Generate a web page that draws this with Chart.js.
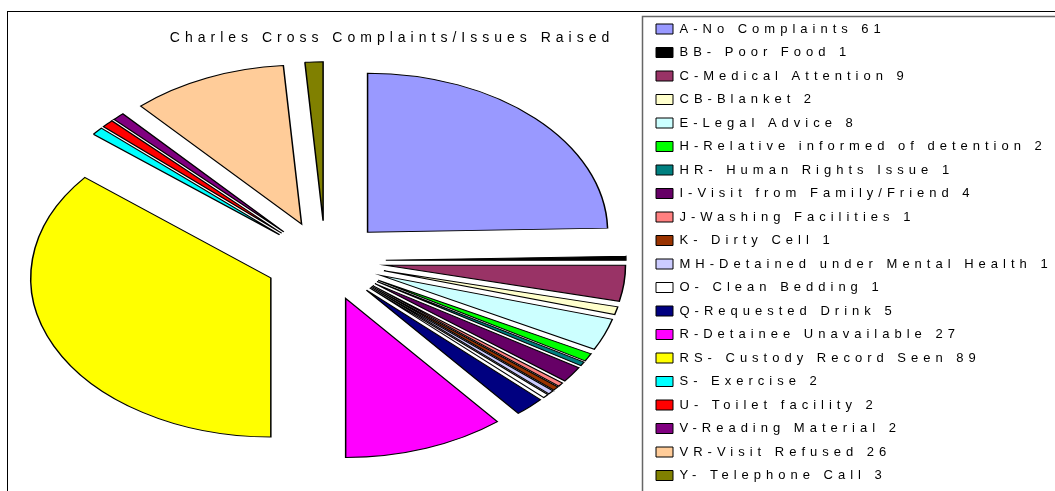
<!DOCTYPE html>
<html>
<head>
<meta charset="utf-8">
<script src="https://cdn.jsdelivr.net/npm/chart.js@4"></script>
<style>
    body { margin: 0; background: #fff; }
    #quadro { width: 1055px; height: 491px; overflow: hidden; }
    #caixa { width: 1055px; height: 520px; }
</style>
</head>
<body>
<div id="quadro"><div id="caixa"><canvas id="graficoQueixas"></canvas></div></div>
<script>
const titulo = 'Charles Cross Complaints/Issues Raised'

const categorias = [
    'A-No Complaints', 'BB- Poor Food', 'C-Medical Attention', 'CB-Blanket',
    'E-Legal Advice', 'H-Relative informed of detention', 'HR- Human Rights Issue',
    'I-Visit from Family/Friend', 'J-Washing Facilities', 'K- Dirty Cell',
    'MH-Detained under Mental Health', 'O- Clean Bedding', 'Q-Requested Drink',
    'R-Detainee Unavailable', 'RS- Custody Record Seen', 'S- Exercise',
    'U- Toilet facility', 'V-Reading Material', 'VR-Visit Refused', 'Y- Telephone Call'
]
const valores = [61, 1, 9, 2, 8, 2, 1, 4, 1, 1, 1, 1, 5, 27, 89, 2, 2, 2, 26, 3]
const cores = [
    '#9999FF', '#000000', '#993366', '#FFFFCC', '#CCFFFF', '#00FF00', '#008080',
    '#660066', '#FF8080', '#993300', '#CCCCFF', '#FFFFFF', '#000080', '#FF00FF',
    '#FFFF00', '#00FFFF', '#FF0000', '#800080', '#FFCC99', '#808000'
]

const fonte = "Arial, 'Liberation Sans', sans-serif"
const raio = 159          // raio vertical da pizza
const esticar = 1.51      // a pizza do Excel e mais larga do que alta
const explodir = 40       // distancia de cada fatia ao centro
const centroX = 325.4
const centroY = 260.8
const larguraLegenda = 409.5

let centroPizza = { x: 0, y: 0 }

// pizza eliptica e explodida, bordas e espacamento das letras
const ajustes = {
    id: 'ajustes',
    beforeLayout(chart) {
        chart.ctx.letterSpacing = '5px'
        const legenda = chart.legend
        if (legenda && !legenda.larguraFixa) {
            const fit = legenda.fit
            legenda.fit = function () {
                fit.call(this)
                this.width = larguraLegenda
            }
            legenda.larguraFixa = true
        }
    },
    afterDatasetUpdate(chart, args) {
        const fatias = args.meta.data
        centroPizza = { x: fatias[0].x, y: fatias[0].y }
        fatias.forEach((fatia) => {
            const meio = (fatia.startAngle + fatia.endAngle) / 2
            fatia.x = centroPizza.x + Math.cos(meio) * explodir
            fatia.y = centroPizza.y + Math.sin(meio) * explodir
        })
    },
    beforeDraw(chart) {
        const ctx = chart.ctx
        ctx.letterSpacing = '5px'
        ctx.save()
        ctx.strokeStyle = '#000'
        ctx.lineWidth = 1
        ctx.strokeRect(7.5, 11.5, 1200, 700)
        ctx.strokeStyle = '#666'
        ctx.lineWidth = 1.5
        ctx.strokeRect(642.5, 16.5, 700, 700)
        ctx.restore()
    },
    beforeDatasetsDraw(chart) {
        const ctx = chart.ctx
        ctx.save()
        ctx.translate(centroX, centroY)
        ctx.scale(esticar, 1)
        ctx.translate(-centroPizza.x, -centroPizza.y)
    },
    afterDatasetsDraw(chart) {
        chart.ctx.restore()
    }
}

Chart.defaults.color = '#000'
Chart.defaults.font.family = fonte

const graficoQueixas = document.getElementById('graficoQueixas')

new Chart(graficoQueixas, {
    type: 'pie',
    data: {
        labels: categorias,
        datasets: [{
            data: valores,
            backgroundColor: cores,
            borderColor: '#000',
            borderWidth: 1,
            borderJoinStyle: 'miter',
            clip: false
        }]
    },
    options: {
        responsive: true,
        maintainAspectRatio: false,
        animation: false,
        events: [],
        radius: raio,
        layout: {
            padding: { left: 138.5, top: 12, right: 0, bottom: 0 }
        },
        plugins: {
            tooltip: { enabled: false },
            title: {
                display: true,
                text: titulo,
                fullSize: false,
                color: '#000',
                font: { size: 14, weight: 'normal', family: fonte },
                padding: { top: 17.6, bottom: 0 }
            },
            legend: {
                position: 'right',
                align: 'start',
                labels: {
                    color: '#000',
                    font: { size: 13, family: fonte },
                    boxWidth: 17,
                    boxHeight: 10,
                    padding: 10.5,
                    generateLabels: () => categorias.map((nome, i) => ({
                        text: nome + ' ' + valores[i],
                        fillStyle: cores[i],
                        strokeStyle: '#000',
                        lineWidth: 1,
                        hidden: false,
                        index: i
                    }))
                }
            }
        }
    },
    plugins: [ajustes]
});
</script>
</body>
</html>
